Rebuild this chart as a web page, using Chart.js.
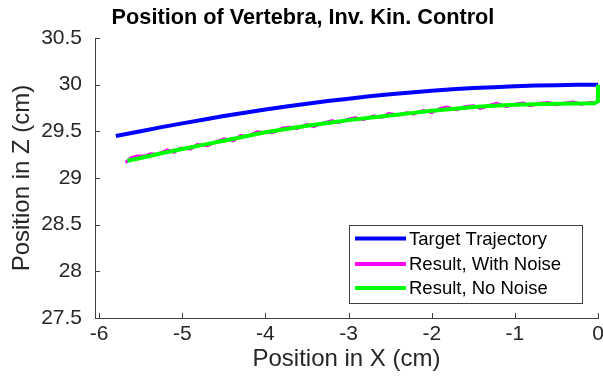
<!DOCTYPE html>
<html>
<head>
<meta charset="utf-8">
<script src="https://cdn.jsdelivr.net/npm/chart.js@4/dist/chart.umd.min.js"></script>
<style>
html,body{margin:0;padding:0;background:#fff;}
#wrap{width:603px;height:378px;}
</style>
</head>
<body>
<div id="wrap"><canvas id="c" width="603" height="378"></canvas></div>
<script>
// ---- data ----
const chartTitle = 'Position of Vertebra, Inv. Kin. Control';
const xAxisTitle = 'Position in X (cm)';
const yAxisTitle = 'Position in Z (cm)';

const xTickValues = [-6, -5, -4, -3, -2, -1, 0];
const xTickLabels = ['-6', '-5', '-4', '-3', '-2', '-1', '0'];
const yTickValues = [27.5, 28, 28.5, 29, 29.5, 30, 30.5];
const yTickLabels = ['27.5', '28', '28.5', '29', '29.5', '30', '30.5'];

const seriesNames = ['Target Trajectory', 'Result, With Noise', 'Result, No Noise'];

const targetX = [-5.8, -5.5, -5.25, -5.0, -4.75, -4.5, -4.25, -4.0, -3.75, -3.5, -3.25, -3.0, -2.75, -2.5, -2.25, -2.0,
  -1.75, -1.5, -1.25, -1.0, -0.75, -0.5, -0.25, 0];
const targetZ = [29.45, 29.50, 29.545, 29.585, 29.625, 29.665, 29.70, 29.735, 29.765, 29.795, 29.825, 29.85, 29.875, 29.897, 29.917, 29.935,
  29.95, 29.963, 29.973, 29.982, 29.99, 29.995, 29.998, 30.0];

const noiseX = [-5.68, -5.62, -5.55, -5.45, -5.38, -5.3, -5.18, -5.1, -5.02, -4.9,
  -4.82, -4.7, -4.62, -4.5, -4.38, -4.3, -4.22, -4.1, -3.98, -3.9,
  -3.8, -3.7, -3.62, -3.5, -3.42, -3.3, -3.2, -3.12, -3.0, -2.92,
  -2.82, -2.7, -2.6, -2.52, -2.4, -2.3, -2.22, -2.1, -2.0, -1.9,
  -1.82, -1.7, -1.6, -1.5, -1.42, -1.3, -1.22, -1.1, -1.0, -0.9,
  -0.82, -0.7, -0.6, -0.5, -0.42, -0.3, -0.2, -0.1, -0.02, 0, 0];
const noiseZ = [29.165, 29.215, 29.235, 29.235, 29.26, 29.255, 29.30, 29.275, 29.32, 29.31,
  29.36, 29.345, 29.38, 29.42, 29.40, 29.455, 29.445, 29.495, 29.485, 29.49,
  29.535, 29.545, 29.53, 29.575, 29.55, 29.59, 29.615, 29.595, 29.63, 29.645,
  29.625, 29.665, 29.65, 29.69, 29.675, 29.70, 29.685, 29.725, 29.70, 29.745,
  29.76, 29.73, 29.765, 29.775, 29.745, 29.78, 29.80, 29.765, 29.79, 29.805,
  29.775, 29.80, 29.81, 29.785, 29.80, 29.815, 29.79, 29.81, 29.805, 29.82, 30.0];

const cleanX = [-5.66, -5.5, -5.25, -5.0, -4.75, -4.5, -4.25, -4.0, -3.75, -3.5, -3.25, -3.0, -2.75, -2.5, -2.25, -2.0,
  -1.75, -1.5, -1.25, -1.0, -0.75, -0.5, -0.25, -0.05, 0, 0];
const cleanZ = [29.185, 29.215, 29.265, 29.31, 29.355, 29.40, 29.445, 29.49, 29.525, 29.56, 29.59, 29.62, 29.645, 29.67, 29.695, 29.72,
  29.74, 29.76, 29.773, 29.785, 29.79, 29.795, 29.798, 29.80, 29.82, 30.0];

// ---- build chart ----
const toPts = (xs, ys) => xs.map((x, i) => ({x: x, y: ys[i]}));
const FONT = "'Liberation Sans', Arial, Helvetica, sans-serif";
const AXIS_COLOR = '#404040';
const TEXT_COLOR = '#262626';

const inwardTicks = {
  id: 'inwardTicks',
  afterDraw(chart) {
    const ctx = chart.ctx, a = chart.chartArea;
    const xs = chart.scales.x, ys = chart.scales.y;
    ctx.save();
    ctx.strokeStyle = AXIS_COLOR;
    ctx.lineWidth = 1;
    ctx.beginPath();
    xTickValues.forEach(v => {
      const p = Math.round(xs.getPixelForValue(v)) + 0.5;
      ctx.moveTo(p, a.bottom); ctx.lineTo(p, a.bottom - 5);
    });
    yTickValues.forEach(v => {
      const p = Math.round(ys.getPixelForValue(v)) + 0.5;
      ctx.moveTo(a.left, p); ctx.lineTo(a.left + 5, p);
    });
    ctx.stroke();
    // title
    ctx.fillStyle = '#000';
    ctx.font = "bold 21.7px " + FONT;
    ctx.textAlign = 'center';
    ctx.textBaseline = 'middle';
    ctx.fillText(chartTitle, 303, 18);
    ctx.restore();
  }
};

const legendBox = {
  id: 'legendBox',
  afterDraw(chart) {
    const ctx = chart.ctx;
    const left = 349, top = 225, right = 582, bottom = 303;
    ctx.save();
    ctx.fillStyle = '#fff';
    ctx.fillRect(left, top, right - left, bottom - top);
    ctx.strokeStyle = AXIS_COLOR;
    ctx.lineWidth = 1;
    ctx.strokeRect(left + 0.5, top + 0.5, right - left, bottom - top);
    const rows = [238.5, 264, 288];
    chart.data.datasets.forEach((ds, i) => {
      const y = rows[i];
      ctx.strokeStyle = ds.borderColor;
      ctx.lineWidth = 4;
      ctx.beginPath();
      ctx.moveTo(355, y); ctx.lineTo(406, y);
      ctx.stroke();
      ctx.fillStyle = '#000';
      ctx.font = "18.5px " + FONT;
      ctx.textAlign = 'left';
      ctx.textBaseline = 'middle';
      ctx.fillText(ds.label, 409, y + 1);
    });
    ctx.restore();
  }
};

new Chart(document.getElementById('c'), {
  type: 'scatter',
  data: {
    datasets: [
      {label: seriesNames[0], data: toPts(targetX, targetZ), borderColor: 'rgb(0,0,255)', borderWidth: 4, order: 2},
      {label: seriesNames[1], data: toPts(noiseX, noiseZ), borderColor: 'rgb(255,0,255)', borderWidth: 3, order: 1},
      {label: seriesNames[2], data: toPts(cleanX, cleanZ), borderColor: 'rgb(0,255,0)', borderWidth: 4, order: 0}
    ].map(d => Object.assign(d, {showLine: true, pointRadius: 0, pointHoverRadius: 0, tension: 0, fill: false,
      borderJoinStyle: 'round', borderCapStyle: 'butt', clip: 6}))
  },
  options: {
    responsive: false,
    animation: false,
    events: [],
    layout: {padding: {top: 38, right: 5, left: 0, bottom: 0}},
    plugins: {legend: {display: false}, title: {display: false}, tooltip: {enabled: false}},
    scales: {
      x: {
        type: 'linear', min: -6.05, max: 0,
        afterBuildTicks: s => { s.ticks = xTickValues.map(v => ({value: v})); },
        afterFit: s => { s.height = 60; s.paddingRight = 0; s.paddingLeft = 0; },
        grid: {display: true, drawOnChartArea: false, drawTicks: false},
        border: {display: true, color: AXIS_COLOR, width: 1},
        ticks: {
          padding: 4, color: TEXT_COLOR, font: {family: FONT, size: 21},
          maxRotation: 0, autoSkip: false,
          callback: (v) => { const i = xTickValues.indexOf(v); return i >= 0 ? xTickLabels[i] : ''; }
        },
        title: {display: true, text: xAxisTitle, color: TEXT_COLOR, font: {family: FONT, size: 24}, padding: {top: 0, bottom: 4}}
      },
      y: {
        type: 'linear', min: 27.5, max: 30.5,
        afterBuildTicks: s => { s.ticks = yTickValues.map(v => ({value: v})); },
        afterFit: s => { s.width = 95; },
        grid: {display: true, drawOnChartArea: false, drawTicks: false},
        border: {display: true, color: AXIS_COLOR, width: 1},
        ticks: {
          padding: 13, color: TEXT_COLOR, font: {family: FONT, size: 21},
          autoSkip: false,
          callback: (v) => { const i = yTickValues.indexOf(v); return i >= 0 ? yTickLabels[i] : ''; }
        },
        title: {display: true, text: yAxisTitle, color: TEXT_COLOR, font: {family: FONT, size: 24}, padding: {top: 8, bottom: 0}}
      }
    }
  },
  plugins: [inwardTicks, legendBox]
});
</script>
</body>
</html>
